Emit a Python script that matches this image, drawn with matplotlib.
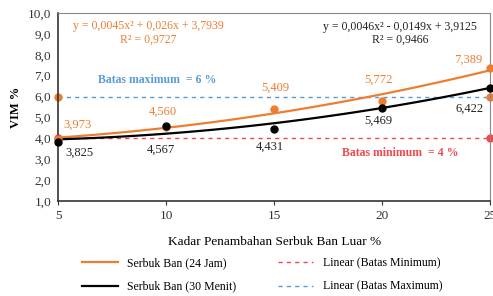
import numpy as np
import matplotlib.pyplot as plt
from matplotlib.lines import Line2D

plt.rcParams['font.family'] = ['Liberation Serif', 'DejaVu Serif']

# --- data ---
kadar = [5, 10, 15, 20, 25]
vim_24jam = [3.973, 4.560, 5.409, 5.772, 7.389]
vim_30menit = [3.825, 4.567, 4.431, 5.469, 6.422]
label_24jam = ['3,973', '4,560', '5,409', '5,772', '7,389']
label_30menit = ['3,825', '4,567', '4,431', '5,469', '6,422']
coef_24jam = [0.0045, 0.026, 3.7939]
coef_30menit = [0.0046, -0.0149, 3.9125]
batas_min = [4, 4]
batas_max = [6, 6]
batas_x = [5, 25]

c_or = '#ED7D31'
c_red = '#F0474B'
c_blue = '#5B9BD5'

fig = plt.figure(figsize=(4.93, 2.96), dpi=100)
ax = fig.add_axes([0.118, 0.321, 0.876, 0.635])

xs = np.linspace(5, 25, 100)
ax.plot(xs, np.polyval(coef_24jam, xs), color=c_or, lw=1.6, zorder=3, clip_on=False)
ax.plot(xs, np.polyval(coef_30menit, xs), color='black', lw=1.6, zorder=3, clip_on=False)
ax.plot(batas_x, batas_min, color=c_red, ls=(0, (3, 3)), lw=1.0, marker='o', ms=5, zorder=2, clip_on=False)
ax.plot(batas_x, batas_max, color=c_blue, ls=(0, (3, 3)), lw=1.0, zorder=2)
ax.plot(batas_x, batas_max, color=c_or, ls='none', marker='o', ms=5, zorder=2, clip_on=False)
ax.plot(kadar, vim_24jam, color=c_or, ls='none', marker='o', ms=5, zorder=4, clip_on=False)
ax.plot(kadar, vim_30menit, color='black', ls='none', marker='o', ms=5, zorder=5, clip_on=False)

# data labels
or_pos = [(5.9, 4.64), (9.86, 5.26), (15.05, 6.41), (19.81, 6.79), (23.98, 7.75)]
bk_pos = [(5.97, 3.30), (9.77, 3.44), (14.81, 3.59), (19.81, 4.83), (24.07, 5.40)]
for (px, py), t in zip(or_pos, label_24jam):
    ax.text(px, py, t, color=c_or, fontsize=9, ha='center', va='center')
for (px, py), t in zip(bk_pos, label_30menit):
    ax.text(px, py, t, color='#222222', fontsize=9, ha='center', va='center')

ax.text(9.17, 9.38, 'y = 0,0045x² + 0,026x + 3,7939', color=c_or, fontsize=8.5, ha='center', va='center')
ax.text(9.17, 8.71, 'R² = 0,9727', color=c_or, fontsize=8.5, ha='center', va='center')
ax.text(20.83, 9.33, 'y = 0,0046x² - 0,0149x + 3,9125', color='#222222', fontsize=8.5, ha='center', va='center')
ax.text(20.83, 8.71, 'R² = 0,9466', color='#222222', fontsize=8.5, ha='center', va='center')
ax.text(9.58, 6.79, 'Batas maximum  = 6 %', color=c_blue, fontsize=8.5, ha='center', va='center', fontweight='bold')
ax.text(20.83, 3.30, 'Batas minimum  = 4 %', color=c_red, fontsize=8.5, ha='center', va='center', fontweight='bold')

ax.set_xlim(5, 25)
ax.set_ylim(1, 10)
ax.set_xticks([5, 10, 15, 20, 25])
ax.set_yticks(np.arange(1, 10.5, 1))
ax.set_yticklabels([f'{v:.1f}'.replace('.', ',') for v in np.arange(1, 10.5, 1)])
ax.tick_params(axis='both', labelsize=9.5, length=3, direction='out', colors='#333333')
ax.tick_params(axis='y', length=0, pad=5)
for s in ['top', 'right']:
    ax.spines[s].set_color('#888888')
for s in ['left', 'bottom']:
    ax.spines[s].set_color('#333333')
    ax.spines[s].set_linewidth(1.2)

ax.set_xlabel('Kadar Penambahan Serbuk Ban Luar %', fontsize=9.5, labelpad=10)
ax.set_ylabel('VIM %', fontsize=9, fontweight='bold', labelpad=4)

handles = [
    Line2D([], [], color=c_or, lw=1.6),
    Line2D([], [], color='black', lw=1.6),
    Line2D([], [], color=c_red, ls=(0, (3, 3)), lw=1.0),
    Line2D([], [], color=c_blue, ls=(0, (3, 3)), lw=1.0),
]
labels = ['Serbuk Ban (24 Jam)', 'Serbuk Ban (30 Menit)',
          'Linear (Batas Minimum)', 'Linear (Batas Maximum)']
fig.legend(handles, labels, loc='lower center', bbox_to_anchor=(0.532, -0.025), ncol=2,
           frameon=False, fontsize=8.5, columnspacing=3.5, handlelength=3.0,
           handletextpad=0.8, labelspacing=0.95)

fig.savefig('out.png', dpi=100)
